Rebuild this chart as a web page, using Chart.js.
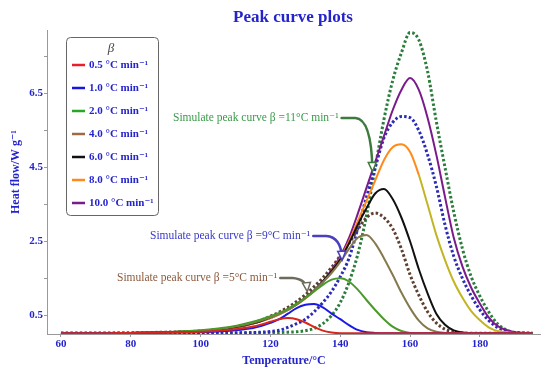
<!DOCTYPE html>
<html>
<head>
<meta charset="utf-8">
<script src="https://cdn.jsdelivr.net/npm/chart.js@4.4.1/dist/chart.umd.min.js"></script>
<style>
  html, body { margin: 0; padding: 0; background: #fff; }
  canvas { display: block; }
</style>
</head>
<body>
<canvas id="peakChart" width="550" height="377"></canvas>
<script>
// Temperature grid (°C)
const temps = [60, 70, 80, 90, 100, 105, 110, 115, 117.5, 120, 122.5, 125, 127.5, 130, 132.5, 135, 137.5, 140,
  142.5, 145, 147.5, 150, 152.5, 155, 157.5, 160, 162.5, 165, 167.5, 170, 172.5, 175, 177.5, 180, 182.5, 185, 190, 195]

// Measured heat flow (W/g) per heating rate
const rate05 = [0.02, 0.02, 0.03, 0.04, 0.06, 0.09, 0.13, 0.2, 0.26, 0.33, 0.4, 0.43, 0.4, 0.31, 0.19, 0.09, 0.04, 0.02,
  0.02, 0.02, 0.02, 0.02, 0.02, 0.02, 0.02, 0.02, 0.02, 0.02, 0.02, 0.02, 0.02, 0.02, 0.02, 0.02, 0.02, 0.02, 0.02, 0.02]
const rate1 = [0.02, 0.02, 0.03, 0.04, 0.05, 0.07, 0.1, 0.16, 0.22, 0.3, 0.4, 0.55, 0.7, 0.79, 0.81, 0.72, 0.55, 0.4,
  0.24, 0.11, 0.05, 0.03, 0.02, 0.02, 0.02, 0.02, 0.02, 0.02, 0.02, 0.02, 0.02, 0.02, 0.02, 0.02, 0.02, 0.02, 0.02, 0.02]
const rate2 = [0.02, 0.02, 0.03, 0.05, 0.1, 0.15, 0.22, 0.33, 0.4, 0.48, 0.57, 0.68, 0.82, 0.98, 1.15, 1.33, 1.47, 1.51,
  1.42, 1.2, 0.92, 0.65, 0.4, 0.2, 0.08, 0.03, 0.02, 0.02, 0.02, 0.02, 0.02, 0.02, 0.02, 0.02, 0.02, 0.02, 0.02, 0.02]
const rate4 = [0.02, 0.02, 0.03, 0.05, 0.09, 0.13, 0.2, 0.3, 0.37, 0.45, 0.54, 0.65, 0.8, 0.97, 1.17, 1.4, 1.65, 1.95,
  2.3, 2.6, 2.68, 2.45, 2.05, 1.6, 1.12, 0.7, 0.36, 0.15, 0.06, 0.03, 0.02, 0.02, 0.02, 0.02, 0.02, 0.02, 0.02, 0.02]
const rate6 = [0.02, 0.02, 0.03, 0.05, 0.08, 0.12, 0.19, 0.29, 0.36, 0.45, 0.55, 0.67, 0.81, 0.98, 1.18, 1.42, 1.7, 2.02,
  2.45, 2.95, 3.4, 3.8, 3.92, 3.65, 3.15, 2.5, 1.75, 1.1, 0.55, 0.25, 0.1, 0.04, 0.02, 0.02, 0.02, 0.02, 0.02, 0.02]
const rate8 = [0.02, 0.02, 0.03, 0.05, 0.08, 0.12, 0.18, 0.28, 0.35, 0.43, 0.53, 0.65, 0.79, 0.96, 1.16, 1.4, 1.7, 2.05,
  2.5, 3.05, 3.6, 4.15, 4.7, 5.05, 5.13, 4.92, 4.3, 3.5, 2.68, 2.0, 1.42, 0.98, 0.62, 0.37, 0.18, 0.08, 0.03, 0.02]
const rate10 = [0.02, 0.02, 0.03, 0.05, 0.08, 0.12, 0.18, 0.28, 0.35, 0.43, 0.53, 0.65, 0.8, 0.97, 1.17, 1.42, 1.73, 2.1,
  2.6, 3.25, 3.95, 4.65, 5.35, 6.05, 6.6, 6.92, 6.6, 5.85, 4.85, 3.7, 2.6, 1.82, 1.25, 0.82, 0.45, 0.22, 0.05, 0.02]

// Simulated peak curves
const sim5 = [0.02, 0.02, 0.03, 0.05, 0.08, 0.12, 0.19, 0.3, 0.38, 0.48, 0.59, 0.72, 0.88, 1.06, 1.28, 1.52, 1.8, 2.12,
  2.45, 2.82, 3.15, 3.27, 3.15, 2.85, 2.3, 1.6, 1.05, 0.6, 0.3, 0.13, 0.06, 0.03, 0.02, 0.02, 0.02, 0.02, 0.02, 0.02]
const sim9 = [0.02, 0.02, 0.02, 0.02, 0.03, 0.03, 0.03, 0.04, 0.05, 0.07, 0.1, 0.18, 0.28, 0.4, 0.6, 0.85, 1.15, 1.55,
  2.05, 2.85, 3.7, 4.5, 5.3, 5.72, 5.88, 5.85, 5.5, 4.85, 4.0, 2.95, 2.1, 1.5, 1.03, 0.65, 0.37, 0.18, 0.04, 0.02]
const sim11 = [0.02, 0.02, 0.02, 0.02, 0.02, 0.02, 0.03, 0.03, 0.03, 0.04, 0.04, 0.05, 0.06, 0.09, 0.15, 0.28, 0.5, 0.85,
  1.4, 2.15, 3.2, 4.5, 5.8, 6.85, 7.6, 8.15, 7.95, 7.1, 5.75, 4.5, 3.3, 2.3, 1.55, 1.02, 0.6, 0.28, 0.04, 0.02]

// Axis ticks
const xTicks = [60, 80, 100, 120, 140, 160, 180]
const yTicks = [0.5, 1.5, 2.5, 3.5, 4.5, 5.5, 6.5, 7.5]
const yLabeled = [0.5, 2.5, 4.5, 6.5]

const legendLabels = ['0.5 °C min⁻¹', '1.0 °C min⁻¹', '2.0 °C min⁻¹', '4.0 °C min⁻¹', '6.0 °C min⁻¹', '8.0 °C min⁻¹', '10.0 °C min⁻¹']

const SERIF = '"Liberation Serif", "DejaVu Serif", serif'
const BLUE = '#2424cc'

const toXY = arr => arr.map((v, i) => ({ x: temps[i], y: v }))

function solid(label, data, color, legendColor) {
  return {
    label, data: toXY(data), borderColor: color, legendColor: legendColor || color,
    borderWidth: 2, pointRadius: 0, cubicInterpolationMode: 'monotone', fill: false
  }
}
function dotted(label, data, color) {
  return {
    label, data: toXY(data), borderColor: color, borderWidth: 3, borderDash: [2.5, 2.2],
    pointRadius: 0, cubicInterpolationMode: 'monotone', fill: false
  }
}

const datasets = [
  solid(legendLabels[0], rate05, '#d8261e', '#e8202a'),
  solid(legendLabels[1], rate1, '#1a1ae6', '#1616e0'),
  solid(legendLabels[2], rate2, '#4a9a2a', '#26a826'),
  solid(legendLabels[3], rate4, '#857a4e', '#9c6b45'),
  solid(legendLabels[4], rate6, '#111111'),
  solid(legendLabels[5], rate8, '#ff8a1c'),
  solid(legendLabels[6], rate10, '#7a1b8c'),
  dotted('Simulate peak curve β =5°C min⁻¹', sim5, '#5e4030'),
  dotted('Simulate peak curve β =9°C min⁻¹', sim9, '#2b2bb8'),
  dotted('Simulate peak curve β =11°C min⁻¹', sim11, '#2a7d3a')
]
// 8.0 curve turns olive-yellow on its falling side
datasets[5].segment = {
  borderColor: c => c.p0.parsed.x >= 162.5 ? '#c2b522' : undefined
}

// Annotations: text position in px, arrow tip in data units
const notes = [
  { text: 'Simulate peak curve β =11°C min⁻¹', color: '#3a9a4a', arrow: '#3d7a3d', tx: 173, ty: 118, tip: [149.2, 4.45] },
  { text: 'Simulate peak curve β =9°C min⁻¹', color: '#3838c8', arrow: '#4a3fc0', tx: 150, ty: 236, tip: [140.5, 2.05] },
  { text: 'Simulate peak curve β =5°C min⁻¹', color: '#8b5a3c', arrow: '#6e6a5c', tx: 117, ty: 278, tip: [130.5, 1.2] }
]

const decorPlugin = {
  id: 'decor',
  afterDatasetsDraw(chart) {
    const { ctx, scales: { x, y } } = chart
    ctx.save()

    // Title
    ctx.fillStyle = BLUE
    ctx.font = 'bold 17px ' + SERIF
    ctx.textAlign = 'center'
    ctx.textBaseline = 'middle'
    ctx.fillText('Peak curve plots', 293, 18)

    // Axis titles
    ctx.font = 'bold 12px ' + SERIF
    ctx.fillText('Temperature/°C', 284, 361)
    ctx.save()
    ctx.translate(16, 172)
    ctx.rotate(-Math.PI / 2)
    ctx.fillText('Heat flow/W g⁻¹', 0, 0)
    ctx.restore()

    // Legend box
    ctx.fillStyle = '#fff'
    ctx.strokeStyle = '#666'
    ctx.lineWidth = 1
    ctx.beginPath()
    ctx.roundRect(66.5, 37.5, 92, 178, 4)
    ctx.fill()
    ctx.stroke()
    ctx.fillStyle = '#444'
    ctx.font = 'italic 13px ' + SERIF
    ctx.fillText('β', 111, 49)
    ctx.font = 'bold 11px ' + SERIF
    ctx.textAlign = 'left'
    for (let i = 0; i < 7; i++) {
      const ly = 65 + i * 23
      ctx.strokeStyle = datasets[i].legendColor
      ctx.lineWidth = 2.5
      ctx.beginPath()
      ctx.moveTo(72, ly)
      ctx.lineTo(85, ly)
      ctx.stroke()
      ctx.fillStyle = BLUE
      ctx.fillText(legendLabels[i], 89, ly)
    }

    // Annotations with curved arrows
    ctx.font = '11.5px ' + SERIF
    notes.forEach(n => {
      ctx.fillStyle = n.color
      ctx.textAlign = 'left'
      ctx.fillText(n.text, n.tx, n.ty)
      const w = ctx.measureText(n.text).width
      const sx = n.tx + w + 3
      const ex = x.getPixelForValue(n.tip[0])
      const ey = y.getPixelForValue(n.tip[1])
      const mx = sx + (ex - sx) * 0.45
      const cx = ex - 1
      const cy = n.ty + 1
      ctx.strokeStyle = n.arrow
      ctx.lineWidth = 2.5
      ctx.lineCap = 'round'
      ctx.beginPath()
      ctx.moveTo(sx, n.ty)
      ctx.lineTo(mx, n.ty)
      ctx.quadraticCurveTo(cx, cy, ex, ey)
      ctx.stroke()
      // arrow head
      const ang = Math.atan2(ey - cy, ex - cx)
      const hl = 7, hw = 4
      ctx.lineWidth = 1.5
      ctx.fillStyle = '#fff'
      ctx.beginPath()
      ctx.moveTo(ex + Math.cos(ang) * 2, ey + Math.sin(ang) * 2)
      ctx.lineTo(ex - Math.cos(ang) * hl + Math.sin(ang) * hw, ey - Math.sin(ang) * hl - Math.cos(ang) * hw)
      ctx.lineTo(ex - Math.cos(ang) * hl - Math.sin(ang) * hw, ey - Math.sin(ang) * hl + Math.cos(ang) * hw)
      ctx.closePath()
      ctx.fill()
      ctx.stroke()
    })
    ctx.restore()
  }
}

const axisFont = { family: SERIF, size: 11, weight: 'bold' }

new Chart(document.getElementById('peakChart'), {
  type: 'line',
  data: { datasets },
  options: {
    responsive: false,
    animation: false,
    devicePixelRatio: 1,
    layout: { padding: { top: 30, right: 10, left: 0, bottom: 0 } },
    plugins: {
      legend: { display: false },
      tooltip: { enabled: false },
      title: { display: false }
    },
    scales: {
      x: {
        type: 'linear',
        min: 56,
        max: 197.2,
        afterBuildTicks: s => { s.ticks = xTicks.map(v => ({ value: v })) },
        afterFit: s => { s.height = 43 },
        ticks: { font: axisFont, color: BLUE, padding: 1, maxRotation: 0 },
        grid: { drawOnChartArea: false, drawTicks: true, tickLength: 3, color: '#999' },
        border: { color: '#999' }
      },
      y: {
        min: 0,
        max: 8.22,
        afterBuildTicks: s => { s.ticks = yTicks.map(v => ({ value: v })) },
        afterFit: s => { s.width = 47 },
        ticks: {
          font: axisFont, color: BLUE, padding: 1,
          callback: v => yLabeled.includes(v) ? v.toFixed(1) : ''
        },
        grid: { drawOnChartArea: false, drawTicks: true, tickLength: 3, color: '#999' },
        border: { color: '#999' }
      }
    }
  },
  plugins: [decorPlugin]
})
</script>
</body>
</html>
